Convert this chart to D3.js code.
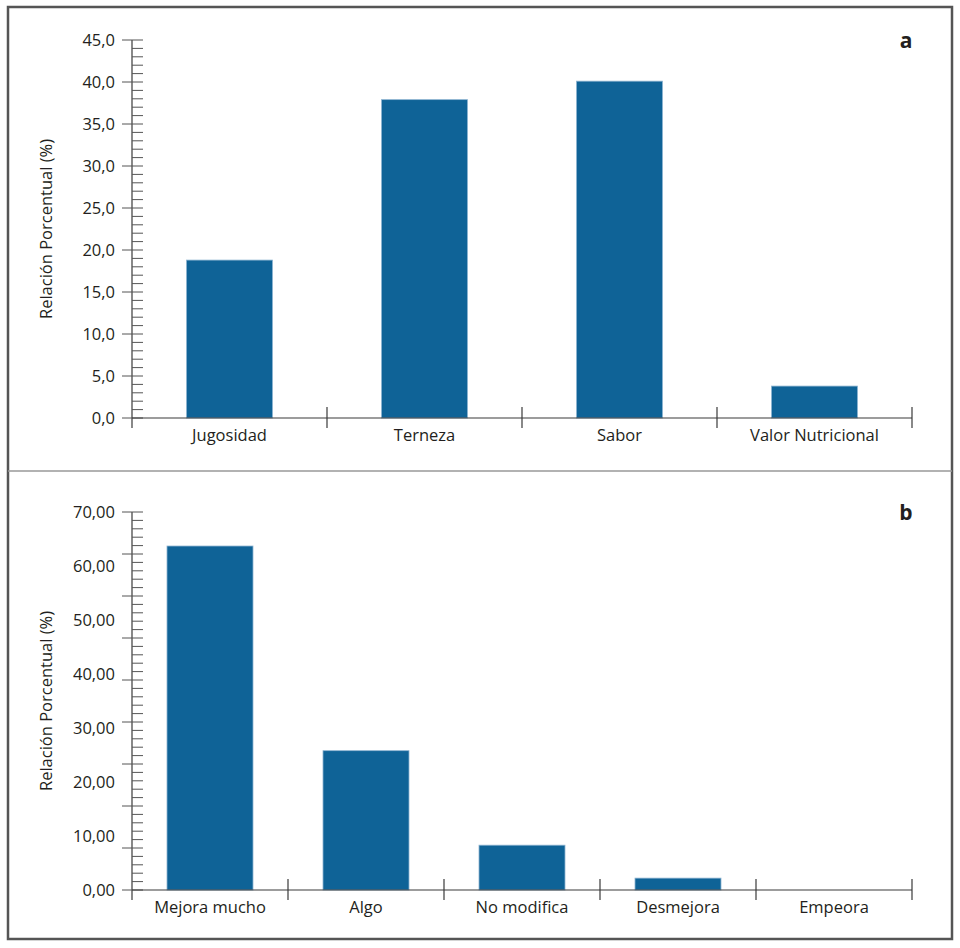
<!DOCTYPE html>
<html>
<head>
<meta charset="utf-8">
<script src="https://cdn.jsdelivr.net/npm/d3@7"></script>
<style>
  body { margin: 0; background: #fff; }
  text { font-family: "Open Sans", "Noto Sans", sans-serif; fill: #231f20; }
</style>
</head>
<body>
<div id="chart"></div>
<script>
// panel a
var catsA = ["Jugosidad", "Terneza", "Sabor", "Valor Nutricional"];
var valsA = [18.8, 37.9, 40.1, 3.8];
var ticksA = [0, 5, 10, 15, 20, 25, 30, 35, 40, 45];

// panel b
var catsB = ["Mejora mucho", "Algo", "No modifica", "Desmejora", "Empeora"];
var valsB = [63.7, 25.8, 8.3, 2.2, 0];
var ticksB = [0, 10, 20, 30, 40, 50, 60, 70];

var svgWidth = 960, svgHeight = 948;
var comma = d3.formatLocale({decimal: ",", thousands: ".", grouping: [3], currency: ["", ""]});

var svg = d3.select("#chart").append("svg")
    .attr("width", svgWidth)
    .attr("height", svgHeight);

// frame + divider
svg.append("rect")
    .attr("x", 8).attr("y", 7)
    .attr("width", 944).attr("height", 932)
    .attr("fill", "none")
    .attr("stroke", "#555")
    .attr("stroke-width", 2.5);
svg.append("line")
    .attr("x1", 8).attr("x2", 952)
    .attr("y1", 471).attr("y2", 471)
    .attr("stroke", "#999")
    .attr("stroke-width", 1.5);

function drawPanel(cfg) {
    var left = 132, right = 912;
    var x = d3.scaleBand().domain(cfg.cats).range([left, right]).padding(0);
    var y = d3.scaleLinear().domain([0, cfg.max]).range([cfg.bottom, cfg.top]);
    var barW = cfg.barW;
    var g = svg.append("g");
    var axisColor = "#3a3a3a";

    // bars
    g.selectAll("rect.bar")
        .data(cfg.vals)
        .enter()
        .append("rect")
        .attr("class", "bar")
        .attr("x", (d, i) => x(cfg.cats[i]) + x.bandwidth() / 2 - barW / 2)
        .attr("width", barW)
        .attr("y", d => y(d))
        .attr("height", d => y(0) - y(d))
        .attr("fill", "#0f6397")
        .attr("stroke", d => d > 0 ? "#8db3d1" : "none")
        .attr("stroke-width", 0.8);

    // y axis line
    g.append("line")
        .attr("x1", left).attr("x2", left)
        .attr("y1", y(cfg.max)).attr("y2", y(0) + 10)
        .attr("stroke", axisColor).attr("stroke-width", 1.2);

    // tick marks: 45 small divisions, every 5th is major
    var marks = d3.range(0, 46).map(i => i * cfg.max / 45);
    g.selectAll("line.tick")
        .data(marks)
        .enter()
        .append("line")
        .attr("x1", (d, i) => i % 5 === 0 ? left - 10 : left)
        .attr("x2", left + 11)
        .attr("y1", d => y(d)).attr("y2", d => y(d))
        .attr("stroke", "#555").attr("stroke-width", 1);

    // tick labels
    g.selectAll("text.ylab")
        .data(cfg.ticks)
        .enter()
        .append("text")
        .attr("x", left - 17)
        .attr("y", d => y(d))
        .attr("dy", "0.35em")
        .attr("text-anchor", "end")
        .attr("font-size", "16.5px")
        .text(d => comma.format(cfg.fmt)(d));

    // x axis line + separators
    g.append("line")
        .attr("x1", left).attr("x2", right)
        .attr("y1", y(0)).attr("y2", y(0))
        .attr("stroke", axisColor).attr("stroke-width", 1.2);
    var seps = cfg.cats.slice(1).map(c => x(c)).concat([right]);
    g.selectAll("line.sep")
        .data(seps)
        .enter()
        .append("line")
        .attr("x1", d => d).attr("x2", d => d)
        .attr("y1", y(0) - 11).attr("y2", y(0) + 10)
        .attr("stroke", axisColor).attr("stroke-width", 1.2);

    g.selectAll("text.xlab")
        .data(cfg.cats)
        .enter()
        .append("text")
        .attr("x", d => x(d) + x.bandwidth() / 2)
        .attr("y", y(0) + 23)
        .attr("text-anchor", "middle")
        .attr("font-size", "16.5px")
        .text(d => d);

    // y title
    g.append("g")
        .attr("transform", `translate(52, ${(cfg.top + cfg.bottom) / 2})`)
        .append("text")
        .attr("text-anchor", "middle")
        .attr("transform", "rotate(-90)")
        .attr("font-size", "16.5px")
        .text("Relación Porcentual (%)");

    // panel letter
    g.append("text")
        .attr("x", 906).attr("y", cfg.top + 8)
        .attr("text-anchor", "middle")
        .attr("font-size", "21px")
        .attr("font-weight", "bold")
        .text(cfg.letter);
}

drawPanel({cats: catsA, vals: valsA, ticks: ticksA, max: 45, fmt: ".1f",
    top: 40, bottom: 418, barW: 86, letter: "a"});
drawPanel({cats: catsB, vals: valsB, ticks: ticksB, max: 70, fmt: ".2f",
    top: 512, bottom: 890, barW: 86, letter: "b"});
</script>
</body>
</html>
